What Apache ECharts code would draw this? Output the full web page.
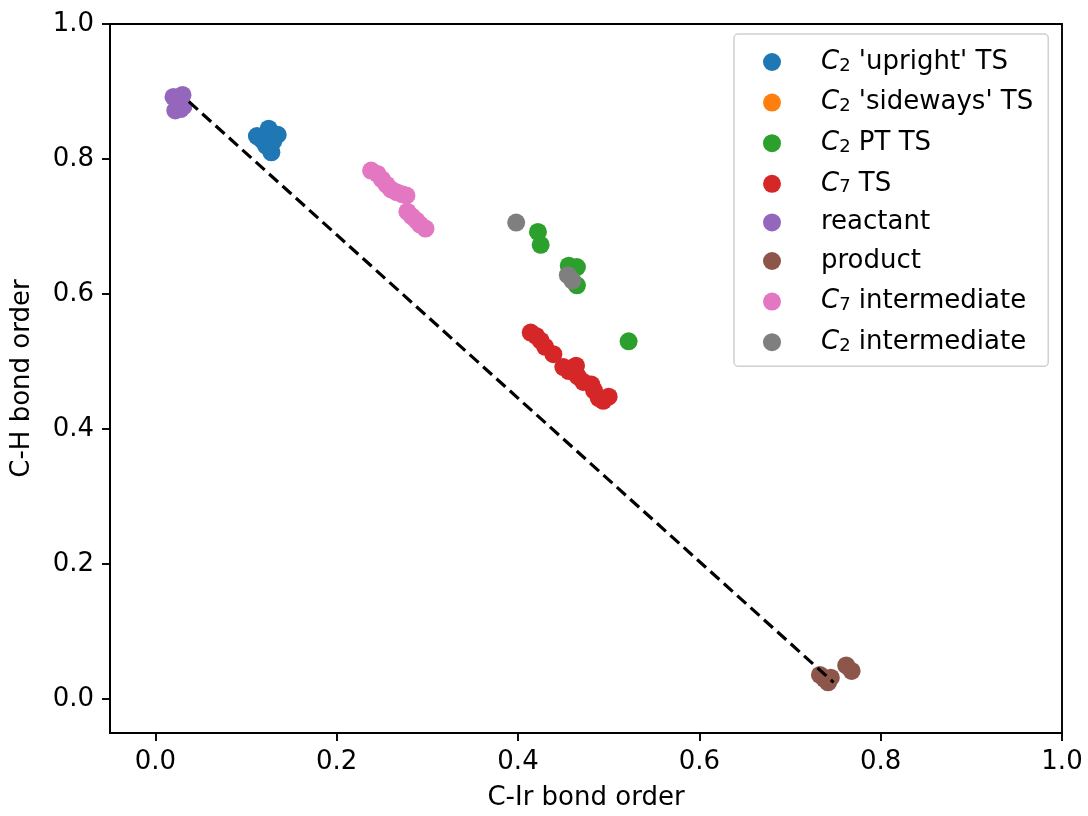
<!DOCTYPE html>
<html>
<head>
<meta charset="utf-8">
<script src="https://cdn.jsdelivr.net/npm/echarts@6/dist/echarts.min.js"></script>
<style>
  html, body { margin: 0; padding: 0; background: #fff; }
  #chart { width: 1088px; height: 816px; }
</style>
</head>
<body>
<div id="chart"></div>
<script>
// [C-Ir bond order, C-H bond order]
const uprightTS = [[0.112, 0.834], [0.118, 0.828], [0.125, 0.845], [0.135, 0.836], [0.122, 0.820], [0.128, 0.810], [0.115, 0.832], [0.130, 0.826]];
const sidewaysTS = [];
const ptTS = [[0.422, 0.692], [0.425, 0.673], [0.456, 0.642], [0.465, 0.640], [0.465, 0.613], [0.522, 0.530]];
const c7TS = [[0.414, 0.543], [0.420, 0.538], [0.425, 0.531], [0.430, 0.522], [0.439, 0.511], [0.450, 0.492], [0.456, 0.486], [0.464, 0.494], [0.466, 0.478], [0.472, 0.470], [0.481, 0.466], [0.484, 0.457], [0.489, 0.446], [0.494, 0.442], [0.500, 0.448]];
const reactant = [[0.020, 0.892], [0.030, 0.895], [0.022, 0.872], [0.031, 0.878], [0.025, 0.886], [0.028, 0.874]];
const product = [[0.733, 0.036], [0.738, 0.030], [0.742, 0.025], [0.745, 0.032], [0.762, 0.050], [0.768, 0.042]];
const c7Inter = [[0.238, 0.783], [0.245, 0.778], [0.250, 0.770], [0.255, 0.762], [0.260, 0.755], [0.266, 0.751], [0.272, 0.748], [0.277, 0.746], [0.278, 0.722], [0.283, 0.715], [0.288, 0.709], [0.292, 0.703], [0.298, 0.697]];
const c2Inter = [[0.398, 0.706], [0.455, 0.628], [0.460, 0.620]];
const guideLine = [[0.037, 0.885], [0.748, 0.025]];
const tickVals = [0.0, 0.2, 0.4, 0.6, 0.8, 1.0];

const names = ["C2 'upright' TS", "C2 'sideways' TS", "C2 PT TS", "C7 TS", "reactant", "product", "C7 intermediate", "C2 intermediate"];
const colors = ['#1f77b4', '#ff7f0e', '#2ca02c', '#d62728', '#9467bd', '#8c564b', '#e377c2', '#7f7f7f'];
const groups = [uprightTS, sidewaysTS, ptTS, c7TS, reactant, product, c7Inter, c2Inter];

const font = 'DejaVu Sans';
const fs = 26;

// subscript in legend names, e.g. C2 -> C with sub 2
const legendFormatter = (name) => {
  const m = name.match(/^C(\d)(.*)$/);
  if (m) return '{gap|}{it|C}{sub|' + m[1] + '}{txt|' + m[2] + '}';
  return '{gap|}{txt|' + name + '}';
};

const axisCommon = {
  type: 'value',
  min: -0.05,
  max: 1.0,
  axisLine: { show: true, onZero: false, lineStyle: { color: '#000', width: 1.9 } },
  axisTick: { show: true, customValues: tickVals, length: 8, lineStyle: { color: '#000', width: 1.9 } },
  axisLabel: { customValues: tickVals, color: '#000', fontFamily: font, fontSize: fs, formatter: (v) => v.toFixed(1) },
  splitLine: { show: false },
  nameLocation: 'middle',
  nameTextStyle: { color: '#000', fontFamily: font, fontSize: fs }
};

const series = groups.map((g, i) => ({
  name: names[i],
  type: 'scatter',
  data: g,
  symbolSize: 18,
  itemStyle: { color: colors[i], opacity: 1 },
  z: 2 + i * 0.01
}));

series.push({
  name: 'guide',
  type: 'line',
  data: guideLine,
  symbol: 'none',
  lineStyle: { color: '#000', width: 3.2, type: [12, 6] },
  z: 3
});

const option = {
  backgroundColor: '#fff',
  animation: false,
  color: colors,
  grid: { left: 110, right: 26, top: 24, bottom: 81, show: true, borderColor: '#000', borderWidth: 1.9 },
  xAxis: Object.assign({}, axisCommon, {
    name: 'C-Ir bond order',
    nameGap: 52,
    axisLabel: Object.assign({}, axisCommon.axisLabel, { margin: 16 })
  }),
  yAxis: Object.assign({}, axisCommon, {
    name: 'C-H bond order',
    nameGap: 75,
    axisLabel: Object.assign({}, axisCommon.axisLabel, { margin: 16 })
  }),
  legend: {
    data: names.map((n) => ({ name: n, icon: 'circle' })),
    orient: 'vertical',
    left: 734,
    top: 34,
    padding: [13, 15, 11, 29],
    itemWidth: 18,
    itemHeight: 18,
    itemGap: 12.6,
    borderColor: '#d0d0d0',
    borderWidth: 1.5,
    borderRadius: 4,
    backgroundColor: 'rgba(255,255,255,0.8)',
    formatter: legendFormatter,
    textStyle: {
      color: '#000',
      fontFamily: font,
      fontSize: fs,
      lineHeight: 26,
      rich: {
        gap: { width: 35 },
        it: { fontFamily: font, fontSize: fs, fontStyle: 'italic', color: '#000', lineHeight: 26 },
        sub: { fontFamily: font, fontSize: 18, color: '#000', verticalAlign: 'bottom', lineHeight: 26, padding: [10, 0, 0, 0] },
        txt: { fontFamily: font, fontSize: fs, color: '#000', lineHeight: 26 }
      }
    }
  },
  series: series
};

const chart = echarts.init(document.getElementById('chart'), null, { renderer: 'canvas' });
chart.setOption(option);
window.addEventListener('resize', () => chart.resize());
</script>
</body>
</html>
